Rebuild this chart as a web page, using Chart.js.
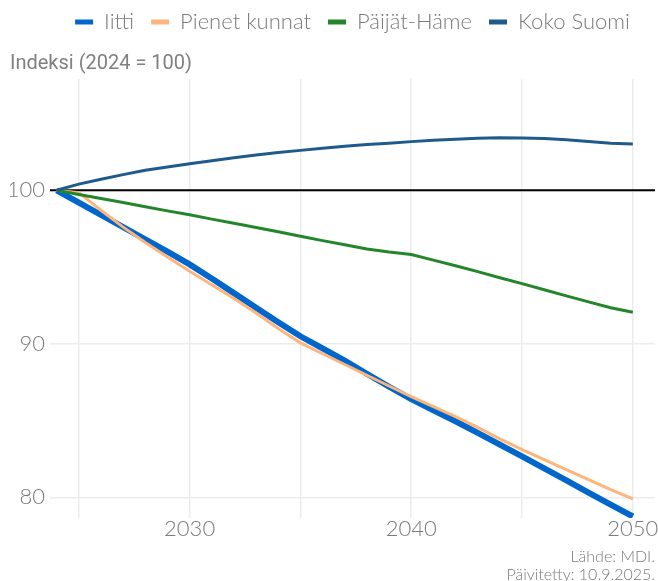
<!DOCTYPE html>
<html>
<head>
<meta charset="utf-8">
<script src="https://cdn.jsdelivr.net/npm/chart.js@4"></script>
<style>
  html, body { margin: 0; padding: 0; background: #fff; }
  #wrap { width: 658px; height: 581px; }
</style>
</head>
<body>
<div id="wrap"><canvas id="chart" width="658" height="581"></canvas></div>
<script>
// data
const years = [2024, 2025, 2026, 2027, 2028, 2029, 2030, 2031, 2032, 2033, 2034, 2035, 2036,
  2037, 2038, 2039, 2040, 2041, 2042, 2043, 2044, 2045, 2046, 2047, 2048, 2049, 2050];

const iitti = [100, 99.2, 98.4, 97.6, 96.8, 96.0, 95.17, 94.25, 93.3, 92.35, 91.4, 90.49, 89.7,
  88.9, 88.05, 87.2, 86.4, 85.67, 84.95, 84.2, 83.43, 82.66, 81.88, 81.1, 80.3, 79.52, 78.75];

const pienetKunnat = [100, 99.85, 98.7, 97.6, 96.6, 95.65, 94.73, 93.85, 92.95, 92.0, 91.0, 90.06, 89.35,
  88.65, 87.95, 87.25, 86.55, 85.9, 85.25, 84.55, 83.8, 83.1, 82.45, 81.8, 81.15, 80.5, 79.9];

const paijatHame = [100, 99.73, 99.46, 99.2, 98.93, 98.66, 98.4, 98.12, 97.85, 97.57, 97.3, 97.0, 96.72,
  96.45, 96.18, 95.98, 95.82, 95.45, 95.08, 94.7, 94.3, 93.92, 93.52, 93.12, 92.73, 92.35, 92.05];

const kokoSuomi = [100, 100.4, 100.72, 101.02, 101.3, 101.52, 101.73, 101.93, 102.12, 102.3, 102.46, 102.6, 102.74,
  102.87, 102.98, 103.07, 103.17, 103.26, 103.33, 103.39, 103.42, 103.41, 103.37, 103.29, 103.18, 103.07, 103.02];

const seriesNames = ["Iitti", "Pienet kunnat", "Päijät-Häme", "Koko Suomi"];
const seriesColors = ["#0066cc", "#fdb57c", "#23862a", "#1f5a8c"];
const seriesWidths = [6, 3, 3, 3];

const baseValue = 100;
const xTicks = [2025, 2030, 2035, 2040, 2045, 2050];
const xLabels = [2030, 2040, 2050];
const yTicks = [80, 90, 100];

const xMin = 2023.7, xMax = 2051;
const yMin = 78.65, yMax = 107.25;

const gray = "#7a7a7a";
const gridColor = "#ececec";

const toPoints = (vals) => vals.map((v, i) => ({ x: years[i], y: v }));

const seriesData = [iitti, pienetKunnat, paijatHame, kokoSuomi];

const datasets = seriesData.map((vals, i) => ({
  label: seriesNames[i],
  data: toPoints(vals),
  borderColor: seriesColors[i],
  backgroundColor: seriesColors[i],
  borderWidth: seriesWidths[i],
  pointRadius: 0,
  tension: 0,
  order: seriesData.length - i,
}));

// reference line at 100
datasets.push({
  label: "_ref",
  data: [{ x: xMin, y: baseValue }, { x: xMax, y: baseValue }],
  borderColor: "#000",
  borderWidth: 2,
  pointRadius: 0,
  order: 10,
});

const footer = {
  id: "footer",
  afterDraw(chart) {
    const ctx = chart.ctx;
    ctx.save();
    ctx.font = "300 16px Lato";
    ctx.fillStyle = gray;
    ctx.textAlign = "right";
    ctx.textBaseline = "alphabetic";
    ctx.fillText("Lähde: MDI.", 655, 562);
    ctx.fillText("Päivitetty: 10.9.2025.", 655, 580);
    ctx.restore();
  },
};

new Chart(document.getElementById("chart"), {
  type: "line",
  data: { datasets },
  plugins: [footer],
  options: {
    responsive: false,
    animation: false,
    layout: { padding: { left: 10, right: 3, top: -6, bottom: 0 } },
    plugins: {
      legend: {
        position: "top",
        align: "center",
        fullSize: false,
        weight: 3000,
        labels: {
          color: gray,
          font: { family: "Lato", size: 22, weight: 300 },
          boxWidth: 18,
          boxHeight: 5,
          padding: 17,
          generateLabels: () =>
            seriesNames.map((n, i) => ({
              text: n,
              fillStyle: seriesColors[i],
              strokeStyle: seriesColors[i],
              lineWidth: 0,
              datasetIndex: i,
              fontColor: gray,
            })),
        },
      },
      title: {
        display: true,
        text: "Indeksi (2024 = 100)",
        align: "start",
        color: "#808080",
        font: { family: "Roboto", size: 20, weight: "normal" },
        padding: { top: 9, bottom: 3 },
      },
      tooltip: { enabled: false },
    },
    scales: {
      x: {
        type: "linear",
        min: xMin,
        max: xMax,
        border: { display: false },
        grid: { color: gridColor, lineWidth: 1.5, drawTicks: false },
        afterBuildTicks: (s) => { s.ticks = xTicks.map((v) => ({ value: v })); },
        afterFit: (s) => { s.height = 63; },
        ticks: {
          color: gray,
          font: { family: "Lato", size: 22, weight: 300 },
          padding: -2,
          autoSkip: false,
          maxRotation: 0,
          callback: (v) => (xLabels.includes(v) ? String(v) : ""),
        },
      },
      y: {
        min: yMin,
        max: yMax,
        border: { display: false },
        grid: { color: gridColor, lineWidth: 1.5, drawTicks: false },
        afterBuildTicks: (s) => { s.ticks = yTicks.map((v) => ({ value: v })); },
        afterFit: (s) => { s.width = 40; },
        ticks: {
          color: gray,
          font: { family: "Lato", size: 22, weight: 300 },
          padding: 5,
          callback: (v) => String(v),
        },
      },
    },
  },
});
</script>
</body>
</html>
